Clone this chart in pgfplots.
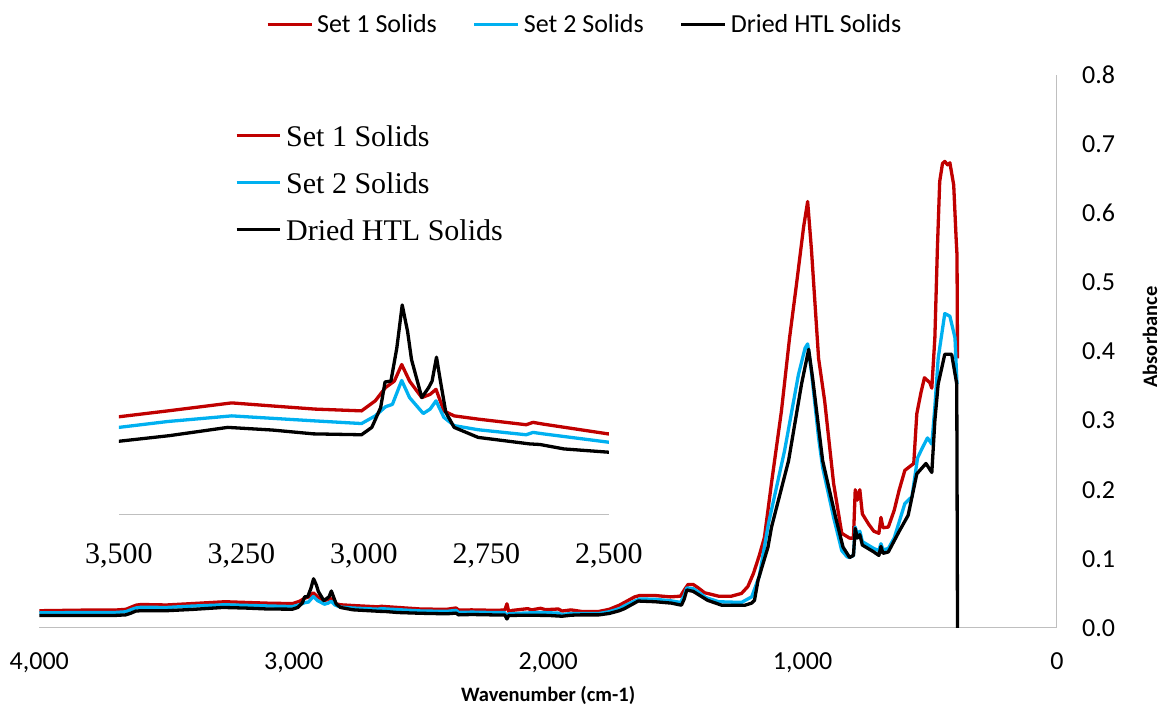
\documentclass[border=0pt]{standalone}
\usepackage{fontspec}
\setmainfont{Carlito}
\newfontfamily\timesfont{Liberation Serif}
\usepackage{pgfplots}
\usepackage{pgfplotstable}
\pgfplotsset{compat=1.18}
\definecolor{redS}{HTML}{C00000}
\definecolor{blueS}{HTML}{00B0F0}
\definecolor{axgray}{HTML}{BFBFBF}

\pgfplotstableread{
x y
4000 0.025
3900 0.0255
3800 0.026
3700 0.026
3660 0.027
3640 0.030
3620 0.033
3600 0.034
3500 0.0333
3400 0.0353
3270 0.0380
3190 0.0370
3100 0.0359
3005 0.0353
2977 0.0387
2956 0.0432
2938 0.0454
2923 0.0510
2907 0.0454
2882 0.0398
2865 0.0409
2853 0.0426
2837 0.0353
2816 0.0336
2767 0.0325
2669 0.0306
2655 0.0314
2634 0.0308
2502 0.0275
2400 0.0270
2362 0.0290
2352 0.0260
2300 0.0262
2200 0.0255
2170 0.0262
2162 0.0350
2155 0.0240
2140 0.0255
2080 0.0280
2065 0.0262
2030 0.0285
2010 0.0265
1960 0.0275
1945 0.0245
1910 0.0262
1870 0.0240
1800 0.0240
1760 0.0270
1720 0.0330
1700 0.0370
1660 0.0450
1640 0.0470
1580 0.0470
1520 0.0450
1480 0.0460
1465 0.0550
1450 0.0630
1430 0.0630
1410 0.0580
1385 0.0510
1330 0.0460
1280 0.0460
1240 0.0500
1215 0.0600
1193 0.0790
1170 0.1050
1150 0.1310
1122 0.2100
1083 0.3140
1051 0.4200
1024 0.4970
996 0.5800
980 0.6170
965 0.5470
937 0.3900
913 0.3280
878 0.2090
846 0.1370
815 0.1300
800 0.1300
793 0.2000
785 0.1850
775 0.2000
765 0.1650
740 0.1500
720 0.1400
700 0.1370
692 0.1600
684 0.1450
663 0.1460
640 0.1700
620 0.2000
598 0.2280
563 0.2380
551 0.3100
535 0.3400
521 0.3620
500 0.3550
492 0.3470
480 0.4200
470 0.5500
461 0.6460
450 0.6720
441 0.6750
430 0.6700
421 0.6730
406 0.6410
396 0.5600
393 0.5400
391 0.3900
}\setone

\pgfplotstableread{
x y
4000 0.022
3900 0.0222
3800 0.0225
3700 0.0225
3660 0.0235
3640 0.0265
3620 0.0290
3600 0.0300
3500 0.0297
3400 0.0317
3270 0.0336
3190 0.0328
3100 0.0319
3005 0.0310
2977 0.0336
2956 0.0367
2942 0.0375
2923 0.0456
2907 0.0398
2879 0.0344
2865 0.0359
2853 0.0387
2837 0.0331
2816 0.0303
2767 0.0289
2669 0.0272
2655 0.0280
2634 0.0275
2502 0.0247
2400 0.0240
2362 0.0255
2352 0.0225
2300 0.0230
2200 0.0222
2170 0.0222
2162 0.0140
2155 0.0205
2100 0.0215
2030 0.0225
1960 0.0215
1945 0.0195
1910 0.0210
1870 0.0210
1800 0.0210
1760 0.0235
1720 0.0280
1700 0.0320
1660 0.0390
1640 0.0420
1580 0.0415
1520 0.0395
1480 0.0370
1465 0.0470
1455 0.0580
1430 0.0570
1410 0.0520
1380 0.0440
1330 0.0380
1240 0.0370
1200 0.0450
1170 0.0750
1134 0.1510
1071 0.2560
1016 0.3670
990 0.4050
980 0.4110
965 0.3700
937 0.2750
921 0.2320
878 0.1600
846 0.1120
825 0.1030
815 0.1020
800 0.1050
793 0.1460
785 0.1350
775 0.1400
765 0.1250
720 0.1150
700 0.1120
692 0.1220
684 0.1130
663 0.1150
640 0.1300
598 0.1800
570 0.1900
548 0.2460
530 0.2600
509 0.2750
492 0.2660
480 0.3200
467 0.3900
441 0.4550
421 0.4510
401 0.4200
393 0.3530
}\settwo

\pgfplotstableread{
x y
4000 0.018
3900 0.018
3800 0.0182
3700 0.0182
3660 0.0190
3640 0.0215
3620 0.0245
3600 0.0250
3500 0.0250
3397 0.0269
3278 0.0297
3187 0.0288
3103 0.0275
3005 0.0272
2984 0.0297
2966 0.0364
2957 0.0451
2945 0.0454
2933 0.0566
2922 0.0712
2911 0.0622
2903 0.0527
2882 0.0398
2868 0.0432
2861 0.0454
2852 0.0535
2844 0.0454
2833 0.0348
2816 0.0297
2767 0.0263
2662 0.0241
2641 0.0239
2592 0.0224
2502 0.0213
2400 0.0205
2362 0.0215
2352 0.0190
2300 0.0195
2200 0.0188
2170 0.0188
2162 0.0130
2155 0.0180
2100 0.0185
2000 0.0182
1945 0.0170
1910 0.0185
1870 0.0190
1800 0.0190
1760 0.0210
1720 0.0250
1700 0.0280
1646 0.0390
1580 0.0380
1516 0.0360
1476 0.0330
1465 0.0420
1455 0.0550
1430 0.0530
1373 0.0400
1318 0.0330
1226 0.0330
1200 0.0360
1189 0.0400
1175 0.0690
1136 0.1170
1122 0.1460
1055 0.2420
1004 0.3530
976 0.4030
960 0.3600
937 0.2900
921 0.2420
870 0.1600
841 0.1170
815 0.1020
800 0.1050
793 0.1440
785 0.1300
775 0.1350
765 0.1200
720 0.1100
700 0.1050
692 0.1180
684 0.1080
663 0.1100
620 0.1400
585 0.1630
551 0.2230
515 0.2380
492 0.2250
480 0.3000
467 0.3530
441 0.3960
414 0.3960
394 0.3530
391 0.0000
}\dried

\begin{document}
\begin{tikzpicture}
\useasboundingbox (0pt,0pt) rectangle (1162pt,711pt);
% main axis
\begin{axis}[
  at={(39.3pt,83pt)}, anchor=south west,
  scale only axis, width=1017.7pt, height=553pt,
  x dir=reverse, xmin=0, xmax=4000, ymin=0, ymax=0.8,
  axis x line*=bottom, axis y line*=right,
  axis line style={draw=axgray, line width=1pt, -},
  major tick length=0pt,
  xtick={0,1000,2000,3000,4000},
  ytick={0,0.1,...,0.8},
  scaled x ticks=false, scaled y ticks=false,
  /pgf/number format/assume math mode=true,
  xticklabel style={font=\fontsize{26}{30}\selectfont, anchor=base, yshift=-42pt, /pgf/number format/1000 sep={,}},
  yticklabel style={font=\fontsize{26}{30}\selectfont, anchor=west, inner sep=0pt, xshift=25pt, /pgf/number format/.cd, fixed, fixed zerofill, precision=1},
  xlabel={Wavenumber (cm-1)},
  xlabel style={font=\bfseries\fontsize{20.5}{24}\selectfont, at={(axis description cs:0.5,0)}, anchor=center, yshift=-67pt},
  ylabel={Absorbance},
  ylabel style={font=\bfseries\fontsize{20.5}{24}\selectfont, at={(axis description cs:1.0914,0.526)}, anchor=center},
  legend columns=3,
  legend style={draw=none, fill=none, at={(axis description cs:0.535,1.092)}, anchor=center,
    font=\fontsize{26}{30}\selectfont, nodes={inner sep=0pt},
    /tikz/every odd column/.append style={column sep=4pt},
    /tikz/every even column/.append style={column sep=36pt}},
  legend image code/.code={\draw[#1, line width=3pt] (0pt,0pt) -- (44pt,0pt);},
]
\addplot[color=redS, line width=3.3pt, line join=round] table {\setone};
\addlegendentry{Set 1 Solids}
\addplot[color=blueS, line width=3.3pt, line join=round] table {\settwo};
\addlegendentry{Set 2 Solids}
\addplot[color=black, line width=3.3pt, line join=round] table {\dried};
\addlegendentry{Dried HTL Solids}
\end{axis}
% inset axis
\begin{axis}[
  at={(119pt,196pt)}, anchor=south west,
  scale only axis, width=490pt, height=400pt,
  x dir=reverse, xmin=2500, xmax=3500, ymin=0, ymax=0.1356,
  axis x line*=bottom, axis y line=none,
  axis line style={draw=axgray, line width=1pt, -},
  major tick length=0pt,
  xtick={2500,2750,3000,3250,3500},
  scaled x ticks=false,
  /pgf/number format/assume math mode=true,
  xticklabel style={font=\timesfont\fontsize{30}{36}\selectfont, anchor=base, yshift=-48.5pt, /pgf/number format/1000 sep={,}},
  legend columns=1,
  legend cell align=left,
  legend style={draw=none, fill=none, at={(axis description cs:0,1)}, anchor=north west,
    xshift=113pt, yshift=-8pt,
    font=\timesfont\fontsize{30}{36}\selectfont, nodes={inner sep=0pt, text height=21pt, text depth=0pt},
    row sep=26pt,
    /tikz/every odd column/.append style={column sep=5pt}},
  legend image code/.code={\draw[#1, line width=3pt] (0pt,0pt) -- (43pt,0pt);},
]
\addplot[color=redS, line width=3.3pt, line join=round] table {\setone};
\addlegendentry{Set 1 Solids}
\addplot[color=blueS, line width=3.3pt, line join=round] table {\settwo};
\addlegendentry{Set 2 Solids}
\addplot[color=black, line width=3.3pt, line join=round] table {\dried};
\addlegendentry{Dried HTL Solids}
\end{axis}
\end{tikzpicture}
\end{document}
